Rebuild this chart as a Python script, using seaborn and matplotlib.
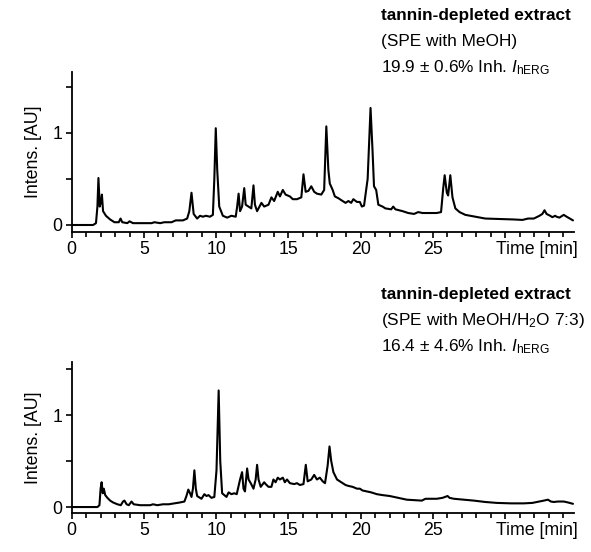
import numpy as np
import pandas as pd
import matplotlib
matplotlib.use("Agg")
import matplotlib.pyplot as plt
import seaborn as sns

# ---------------- data ----------------
t_top = [0.0, 1.48, 1.68, 1.78, 1.85, 1.94, 2.02, 2.09, 2.17, 2.37, 2.66, 2.96, 3.26, 3.38, 3.50, 3.85, 4.00, 4.24,
         4.93, 5.53, 5.72, 6.12, 6.41, 6.91, 7.20, 7.70, 7.99, 8.14, 8.29, 8.44, 8.68, 8.88, 9.08, 9.28, 9.57, 9.77,
         9.87, 9.97, 10.07, 10.21, 10.46, 10.76, 11.05, 11.35, 11.45, 11.55, 11.65, 11.79, 11.94, 12.04, 12.24,
         12.43, 12.58, 12.68, 12.83, 13.13, 13.32, 13.62, 13.82, 14.01, 14.26, 14.41, 14.61, 14.80, 15.10, 15.30,
         15.59, 15.89, 16.04, 16.19, 16.38, 16.58, 16.78, 16.97, 17.27, 17.47, 17.62, 17.76, 17.86, 18.06, 18.21,
         18.46, 18.65, 18.95, 19.15, 19.34, 19.49, 19.74, 19.94, 20.08, 20.23, 20.48, 20.68, 20.82, 20.92, 21.07,
         21.22, 21.51, 21.71, 22.11, 22.25, 22.40, 22.90, 23.29, 23.69, 23.98, 24.28, 24.67, 25.26, 25.56, 25.71,
         25.81, 25.96, 26.05, 26.20, 26.35, 26.55, 26.84, 27.24, 27.93, 28.62, 29.61, 30.59, 31.19, 31.58, 31.98,
         32.37, 32.57, 32.72, 32.86, 33.11, 33.26, 33.46, 33.55, 33.75, 34.05, 34.25, 34.69]
i_top = [0.0, 0.0, 0.02, 0.2, 0.51, 0.2, 0.25, 0.33, 0.15, 0.1, 0.06, 0.03, 0.03, 0.07, 0.03, 0.02, 0.04, 0.02,
         0.02, 0.02, 0.03, 0.02, 0.03, 0.03, 0.05, 0.05, 0.07, 0.15, 0.35, 0.12, 0.07, 0.1, 0.09, 0.1, 0.09, 0.11,
         0.5, 1.05, 0.6, 0.2, 0.1, 0.08, 0.1, 0.09, 0.2, 0.34, 0.15, 0.2, 0.4, 0.22, 0.2,
         0.18, 0.43, 0.22, 0.15, 0.24, 0.2, 0.22, 0.3, 0.26, 0.36, 0.31, 0.38, 0.33, 0.31, 0.28,
         0.28, 0.3, 0.55, 0.36, 0.37, 0.42, 0.36, 0.34, 0.33, 0.38, 1.07, 0.6, 0.45, 0.38, 0.31,
         0.29, 0.27, 0.24, 0.26, 0.24, 0.28, 0.25, 0.25, 0.2, 0.21, 0.5, 1.27, 0.8, 0.42, 0.38,
         0.22, 0.2, 0.18, 0.17, 0.2, 0.17, 0.15, 0.13, 0.12, 0.14, 0.13, 0.13, 0.13, 0.14, 0.4,
         0.54, 0.35, 0.32, 0.54, 0.3, 0.18, 0.14, 0.11, 0.09, 0.07, 0.065, 0.06, 0.055, 0.07, 0.07,
         0.1, 0.12, 0.16, 0.12, 0.1, 0.085, 0.1, 0.09, 0.08, 0.11, 0.09, 0.05]

t_bot = [0.0, 1.78, 1.92, 2.00, 2.07, 2.15, 2.22, 2.32, 2.47, 2.66, 2.86, 3.16, 3.40, 3.55, 3.65, 3.80, 3.95, 4.14, 4.29,
         4.74, 5.43, 5.63, 5.92, 6.32, 6.71, 7.11, 7.50, 7.80, 7.94, 8.07, 8.19, 8.29, 8.39, 8.49, 8.59, 8.68, 8.98, 9.18,
         9.33, 9.47, 9.67, 9.87, 10.02, 10.17, 10.28, 10.41, 10.71, 10.86, 11.05, 11.25, 11.42, 11.65, 11.79,
         11.89, 11.99, 12.14, 12.24, 12.39, 12.58, 12.73, 12.83, 12.93, 13.08, 13.32, 13.42, 13.62, 13.82, 13.96,
         14.11, 14.26, 14.41, 14.61, 14.75, 14.90, 15.10, 15.40, 15.59, 15.79, 16.04, 16.20, 16.33, 16.58, 16.78,
         16.97, 17.17, 17.37, 17.53, 17.71, 17.84, 17.96, 18.11, 18.36, 18.65, 18.95, 19.15, 19.44, 19.74, 19.94,
         20.13, 20.43, 20.72, 21.12, 21.51, 22.01, 22.60, 23.19, 23.69, 24.23, 24.48, 24.87, 25.26, 25.66, 26.01,
         26.15, 26.45, 27.14, 27.83, 28.62, 29.41, 30.40, 31.28, 31.88, 32.37, 32.67, 32.96, 33.16, 33.36, 33.65,
         34.05, 34.34, 34.69]
i_bot = [0.0, 0.0, 0.02, 0.2, 0.27, 0.15, 0.2, 0.13, 0.1, 0.07, 0.05, 0.03, 0.02, 0.06, 0.07, 0.03, 0.02, 0.06, 0.03,
         0.02, 0.02, 0.03, 0.02, 0.03, 0.03, 0.04, 0.05, 0.06, 0.12, 0.19, 0.15, 0.11, 0.2, 0.4, 0.2, 0.12, 0.09, 0.14,
         0.12, 0.13, 0.1, 0.11, 0.4, 1.27, 0.5, 0.15, 0.11, 0.16, 0.14, 0.15, 0.14, 0.3, 0.38,
         0.2, 0.17, 0.42, 0.3, 0.26, 0.2, 0.3, 0.46, 0.3, 0.22, 0.27, 0.25, 0.22, 0.22, 0.3,
         0.27, 0.32, 0.3, 0.32, 0.27, 0.3, 0.26, 0.25, 0.26, 0.24, 0.25, 0.46, 0.28, 0.3, 0.35,
         0.3, 0.32, 0.28, 0.26, 0.45, 0.66, 0.5, 0.38, 0.3, 0.27, 0.24, 0.23, 0.22, 0.2, 0.2,
         0.18, 0.17, 0.16, 0.14, 0.13, 0.12, 0.1, 0.08, 0.075, 0.07, 0.09, 0.09, 0.09, 0.1, 0.12,
         0.1, 0.09, 0.08, 0.07, 0.055, 0.045, 0.04, 0.04, 0.045, 0.06, 0.07, 0.08, 0.06, 0.055, 0.06,
         0.06, 0.05, 0.035]

x_major_ticks = [0, 5, 10, 15, 20, 25, 30]
x_tick_labels = ["0", "5", "10", "15", "20", "25", ""]
y_ticks = [0, 0.5, 1, 1.5]
y_tick_labels = ["0", "", "1", ""]

titles = ["tannin-depleted extract", "tannin-depleted extract"]
subtitles = ["(SPE with MeOH)", "(SPE with MeOH/H$_2$O 7:3)"]
inhibitions = ["19.9 ± 0.6% Inh. $\\mathit{I}_{\\mathregular{hERG}}$",
               "16.4 ± 4.6% Inh. $\\mathit{I}_{\\mathregular{hERG}}$"]

# ---------------- style ----------------
sns.set_theme(style="ticks")
plt.rcParams["font.family"] = ["Liberation Sans", "DejaVu Sans"]
plt.rcParams["mathtext.fontset"] = "custom"
plt.rcParams["mathtext.rm"] = "Liberation Sans"
plt.rcParams["mathtext.it"] = "Liberation Sans:italic"
plt.rcParams["mathtext.bf"] = "Liberation Sans:bold"

W, H = 591, 552
fig = plt.figure(figsize=(W / 100, H / 100), dpi=100)

FS = 12.8
FS_TXT = 12.4

def px_rect(left, top, right, bottom):
    return [left / W, 1 - bottom / H, (right - left) / W, (bottom - top) / H]

axes_specs = [
    (px_rect(71.7, 72, 574, 232), (-0.076, 1.66)),
    (px_rect(71.7, 362, 574, 513), (-0.065, 1.58)),
]

traces = [(t_top, i_top), (t_bot, i_bot)]

for k, (rect, ylim) in enumerate(axes_specs):
    ax = fig.add_axes(rect)
    df = pd.DataFrame({"Time": traces[k][0], "Intensity": traces[k][1]})
    sns.lineplot(data=df, x="Time", y="Intensity", ax=ax, color="black",
                 linewidth=1.5, estimator=None, sort=True)
    ax.set_xlim(0, 34.76)
    ax.set_ylim(*ylim)
    sns.despine(ax=ax)
    for s in ["left", "bottom"]:
        ax.spines[s].set_linewidth(1.3)
        ax.spines[s].set_color("black")
    ax.set_xticks(x_major_ticks)
    ax.set_xticklabels(x_tick_labels)
    ax.set_xticks(np.arange(0, 35, 1), minor=True)
    ax.set_yticks(y_ticks)
    ax.set_yticklabels(y_tick_labels)
    ax.tick_params(axis="both", which="major", direction="out", length=4.5, width=1.2,
                   color="black", labelsize=FS, labelcolor="black", pad=2)
    ax.tick_params(axis="x", which="minor", direction="out", length=3.5, width=1.2, color="black")
    ax.set_xlabel("")
    ax.set_ylabel("Intens. [AU]", fontsize=FS, color="black", labelpad=8)
    ax.annotate("Time [min]", xy=(1, 0), xycoords="axes fraction",
                xytext=(3, -6.5), textcoords="offset points",
                ha="right", va="top", fontsize=FS, color="black")
    ax.grid(False)

# ---------------- annotation text blocks ----------------
text_left = 381
baselines = [(20, 46, 72), (299, 325, 351)]
for k in range(2):
    b1, b2, b3 = baselines[k]
    fig.text(text_left / W, 1 - b1 / H, titles[k], fontsize=FS_TXT, fontweight="bold",
             ha="left", va="baseline", color="black")
    fig.text(text_left / W, 1 - b2 / H, subtitles[k], fontsize=FS_TXT,
             ha="left", va="baseline", color="black")
    fig.text(text_left / W, 1 - b3 / H, inhibitions[k], fontsize=FS_TXT,
             ha="left", va="baseline", color="black")

fig.savefig("out.png", dpi=100, facecolor="white")
